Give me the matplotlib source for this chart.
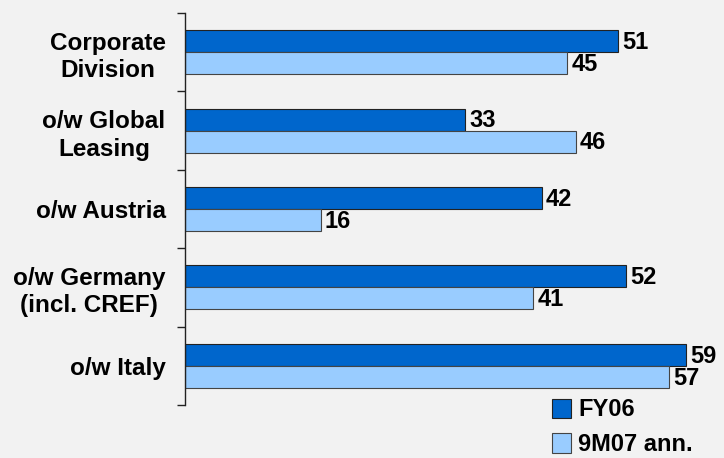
import numpy as np
import matplotlib.pyplot as plt

plt.rcParams['font.family'] = ['Liberation Sans', 'DejaVu Sans']

# --- data ---
categories = ['Corporate\nDivision', 'o/w Global\nLeasing', 'o/w Austria',
              'o/w Germany\n(incl. CREF)', 'o/w Italy']
fy06 = [51, 33, 42, 52, 59]
m907 = [45, 46, 16, 41, 57]
series_names = ['FY06', '9M07 ann.']

BG = '#f2f2f2'
C_DARK = '#0066cc'
C_LIGHT = '#99ccff'

fig = plt.figure(figsize=(7.24, 4.58), dpi=100, facecolor=BG)
ax = fig.add_axes([0.2555, 0.1157, 0.72, 0.856])
ax.set_facecolor(BG)

y = np.arange(len(categories))
h = 0.28
b1 = ax.barh(y - h / 2, fy06, height=h, color=C_DARK, edgecolor='#222222',
             linewidth=0.8, label=series_names[0])
b2 = ax.barh(y + h / 2, m907, height=h, color=C_LIGHT, edgecolor='#444444',
             linewidth=0.8, label=series_names[1])

# value labels at bar ends
for bars, vals in ((b1, fy06), (b2, m907)):
    for rect, v in zip(bars, vals):
        ax.annotate(str(v), (rect.get_width(), rect.get_y() + rect.get_height() / 2),
                    xytext=(3, -1), textcoords='offset points', ha='left', va='center',
                    fontsize=17, fontweight='bold', color='black')

ax.set_ylim(len(categories) - 0.5, -0.5)
ax.set_xlim(0, 61.4)

ax.set_yticks(y)
ax.set_yticklabels(categories, fontsize=17.5, fontweight='bold', ha='right',
                   linespacing=1.25)
for t in ax.get_yticklabels():
    t.set_multialignment('center')
ax.tick_params(axis='y', which='major', length=0, pad=14)
# ticks between the categories
ax.set_yticks(np.arange(-0.5, len(categories) + 0.5, 1), minor=True)
ax.tick_params(axis='y', which='minor', length=6, width=1, color='#222222')

ax.set_xticks([])
for s in ('top', 'right', 'bottom'):
    ax.spines[s].set_visible(False)
ax.spines['left'].set_color('#222222')
ax.spines['left'].set_linewidth(1)

fig.legend(handles=[b1, b2], labels=series_names, loc='upper left',
           bbox_to_anchor=(0.763, 0.13), frameon=False,
           prop={'weight': 'bold', 'size': 17}, handlelength=0.8, handleheight=0.9,
           handletextpad=0.3, labelspacing=0.5, borderpad=0, borderaxespad=0)

fig.savefig('out.png', dpi=100, facecolor=BG)
